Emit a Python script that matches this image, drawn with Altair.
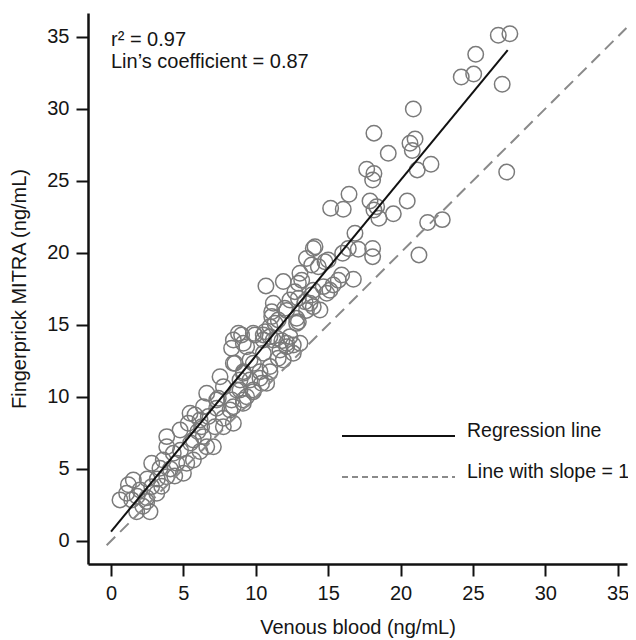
import altair as alt
import pandas as pd

# Points: (venous, fingerprick), ng/mL
upper_pts = [
    (26.75, 35.1), (27.55, 35.2), (25.19, 33.77), (24.19, 32.2), (25.05, 32.4), (27.02, 31.7),
    (20.88, 29.98), (18.16, 28.3), (21.0, 27.9), (20.65, 27.6), (20.81, 27.1), (19.15, 26.9),
    (22.1, 26.14), (21.15, 25.75), (27.33, 25.6), (17.66, 25.8), (18.16, 25.5), (18.07, 25.05),
    (16.44, 24.06), (15.17, 23.09), (16.04, 23.02), (17.89, 23.6), (20.46, 23.6), (18.16, 22.97),
    (19.5, 22.7), (18.35, 23.2), (18.5, 22.4), (21.87, 22.1), (22.88, 22.3), (21.27, 19.85),
    (18.07, 20.3), (18.07, 19.73), (16.85, 21.35), (17.08, 20.24), (16.0, 19.96), (16.39, 20.3),
    (16.74, 18.16), (15.93, 18.46), (15.35, 17.77), (15.7, 18.1), (13.97, 20.3), (13.5, 19.6),
    (14.09, 20.42), (14.78, 19.38), (14.32, 19.03), (15.0, 19.5), (13.86, 19.15), (13.05, 18.58),
    (13.17, 18.1), (13.97, 17.4), (15.12, 17.4), (14.66, 17.65), (10.7, 17.7), (11.9, 18.0),
    (12.94, 17.88), (12.7, 17.3), (12.94, 16.84), (13.86, 17.07), (14.9, 17.19), (12.36, 16.72),
    (11.21, 16.5), (12.0, 16.15), (13.74, 16.5), (14.43, 16.03), (13.97, 16.26), (13.4, 16.6),
    (11.1, 15.57), (12.94, 15.22), (11.55, 15.34), (8.8, 14.41), (9.94, 14.3), (10.64, 14.52),
    (10.98, 14.18), (11.8, 13.9), (11.1, 15.9), (11.33, 15.1), (12.13, 16.0), (12.82, 15.45),
    (13.5, 16.0),
]
middle_pts = [
    (9.02, 14.3), (10.52, 13.95), (11.44, 14.07), (12.36, 14.18), (13.05, 13.72), (12.13, 13.48),
    (12.59, 13.02), (11.55, 12.68), (10.52, 13.02), (9.37, 13.48), (8.33, 13.37), (8.56, 12.33),
    (9.6, 12.56), (10.98, 12.1), (10.29, 11.75), (9.14, 11.75), (7.53, 11.4), (8.91, 11.17),
    (9.6, 11.17), (10.41, 10.94), (7.76, 10.71), (8.68, 10.48), (9.83, 10.36), (6.61, 10.25),
    (7.41, 9.9), (8.33, 9.78), (9.14, 9.78), (6.38, 9.32), (7.3, 9.21), (8.22, 9.09),
    (5.8, 8.74), (6.72, 8.63), (7.76, 8.51), (5.34, 8.17), (6.26, 7.93), (7.18, 7.93),
    (4.77, 7.7), (3.85, 7.24),
]
lower_pts = [
    (1.54, 4.23), (1.08, 3.31), (0.62, 2.85), (1.43, 2.85), (1.77, 2.03), (2.47, 2.73),
    (2.69, 2.03), (2.0, 3.54), (2.81, 3.77), (2.47, 3.0), (3.16, 3.31), (2.81, 5.39),
    (3.38, 5.04), (3.85, 4.46), (3.85, 6.54), (4.3, 6.08), (3.61, 5.62), (4.54, 5.39),
    (5.0, 4.7), (5.23, 5.39), (5.69, 5.62), (5.46, 8.86), (6.15, 8.4), (5.69, 7.0),
    (6.37, 7.24), (6.61, 6.54), (6.15, 6.2), (7.07, 6.54), (7.3, 9.78), (7.76, 7.93),
    (8.45, 8.17), (8.45, 9.32), (9.14, 9.55), (8.91, 10.48), (8.45, 13.95), (9.14, 13.72),
    (9.83, 14.41), (10.52, 14.3), (8.45, 12.33), (9.83, 12.33), (9.14, 11.64), (10.29, 11.29),
    (10.75, 10.94), (10.98, 11.75), (9.83, 10.48), (9.37, 10.01), (11.9, 12.56), (12.59, 13.6),
    (12.13, 13.72), (11.21, 13.95), (11.67, 13.25), (12.82, 15.1), (10.98, 14.87),
    (3.2, 4.3), (4.1, 5.0), (4.4, 4.5), (2.2, 2.4), (1.8, 3.1), (2.5, 4.3), (3.5, 3.8),
    (1.2, 3.9), (4.8, 6.3), (5.5, 6.8), (6.0, 7.6),
]

# Regression line end points and identity line extent
reg_x = [0.0, 27.4]
reg_y = [0.65, 34.07]
ident_vals = [-0.3, 35.6]

x_ticks = [0, 5, 10, 15, 20, 25, 30, 35]
y_ticks = [0, 5, 10, 15, 20, 25, 30, 35]

annot_lines = ["r\u00b2 = 0.97", "Lin\u2019s coefficient = 0.87"]
legend_labels = ["Regression line", "Line with slope = 1"]

FONT = "Liberation Sans"
TXT = "#151515"

pts = pd.DataFrame(upper_pts + middle_pts + lower_pts, columns=["venous", "finger"])
reg_df = pd.DataFrame({"venous": reg_x, "finger": reg_y})
ident_df = pd.DataFrame({"venous": ident_vals, "finger": ident_vals})

xs = alt.Scale(domain=[-1.59, 35.64], nice=False, zero=False)
ys = alt.Scale(domain=[-1.6, 36.64], nice=False, zero=False)

x_enc = alt.X("venous:Q", scale=xs,
              axis=alt.Axis(values=x_ticks, title="Venous blood (ng/mL)", titlePadding=14))
y_enc = alt.Y("finger:Q", scale=ys,
              axis=alt.Axis(values=y_ticks, title="Fingerprick MITRA (ng/mL)", titlePadding=17))

points = alt.Chart(pts).mark_point(
    shape="circle", filled=False, size=240, strokeWidth=1.5, color="#7a7a7a", opacity=1
).encode(x=x_enc, y=y_enc)

ident_line = alt.Chart(ident_df).mark_line(
    color="#8a8a8a", strokeWidth=2, strokeDash=[12, 7]
).encode(x=alt.X("venous:Q", scale=xs), y=alt.Y("finger:Q", scale=ys))

reg_line = alt.Chart(reg_df).mark_line(
    color="#111111", strokeWidth=2
).encode(x=alt.X("venous:Q", scale=xs), y=alt.Y("finger:Q", scale=ys))

TEXT_SIZE = 20
LEG_SIZE = 19.5

annot1 = alt.Chart(pd.DataFrame({"t": [annot_lines[0]]})).mark_text(
    align="left", baseline="middle", font=FONT, fontSize=TEXT_SIZE, color=TXT
).encode(x=alt.value(23), y=alt.value(27), text="t:N")
annot2 = alt.Chart(pd.DataFrame({"t": [annot_lines[1]]})).mark_text(
    align="left", baseline="middle", font=FONT, fontSize=TEXT_SIZE, color=TXT
).encode(x=alt.value(23), y=alt.value(49), text="t:N")

leg_solid = alt.Chart(pd.DataFrame({"k": [legend_labels[0]]})).mark_rule(
    color="#111111", strokeWidth=2
).encode(x=alt.value(254), x2=alt.value(367), y=alt.value(423))
leg_dash = alt.Chart(pd.DataFrame({"k": [legend_labels[1]]})).mark_rule(
    color="#8a8a8a", strokeWidth=2, strokeDash=[6, 4]
).encode(x=alt.value(254), x2=alt.value(367), y=alt.value(464))
leg_t1 = alt.Chart(pd.DataFrame({"t": [legend_labels[0]]})).mark_text(
    align="left", baseline="middle", font=FONT, fontSize=LEG_SIZE, color=TXT
).encode(x=alt.value(379), y=alt.value(418), text="t:N")
leg_t2 = alt.Chart(pd.DataFrame({"t": [legend_labels[1]]})).mark_text(
    align="left", baseline="middle", font=FONT, fontSize=LEG_SIZE, color=TXT
).encode(x=alt.value(379), y=alt.value(459), text="t:N")

chart = alt.layer(
    points, ident_line, reg_line, annot1, annot2, leg_solid, leg_dash, leg_t1, leg_t2
).properties(
    width=539, height=551,
    autosize=alt.AutoSizeParams(type="none"),
    padding={"left": 80, "top": 5, "right": 1, "bottom": 77},
    background="white",
).configure_view(
    strokeWidth=0
).configure_axis(
    grid=False,
    domainColor="#111111", domainWidth=2.5,
    tickColor="#111111", tickWidth=2, tickSize=12,
    labelFont=FONT, labelFontSize=20, labelColor=TXT, labelPadding=7,
    titleFont=FONT, titleFontSize=20, titleFontWeight="normal", titleColor=TXT,
)

chart.save("out.html", embed_options={"renderer": "svg", "actions": False})
